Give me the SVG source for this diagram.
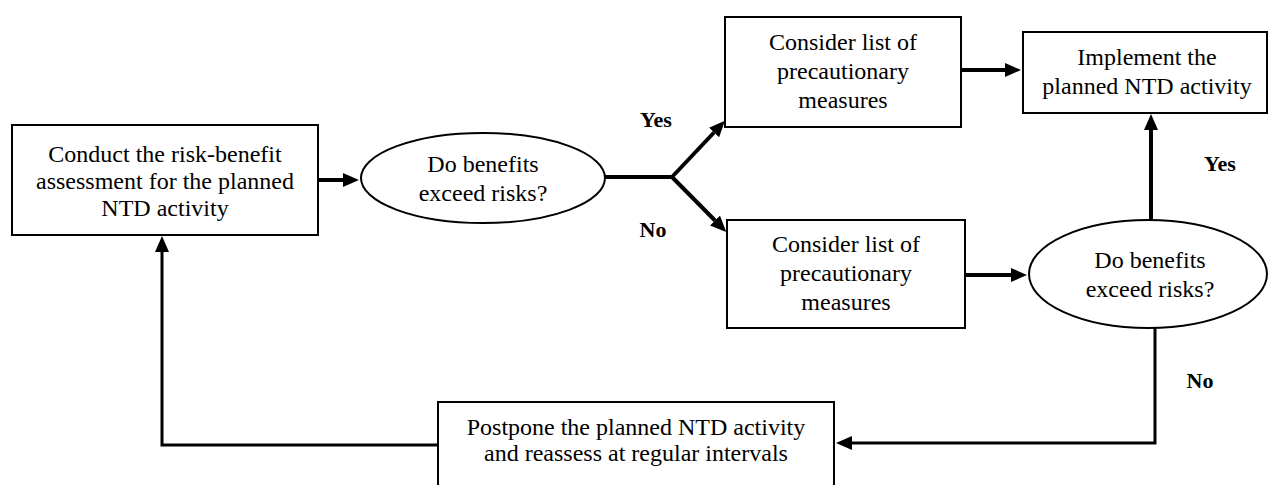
<svg xmlns="http://www.w3.org/2000/svg" width="1269" height="485" viewBox="0 0 1269 485">
<style>
.box{fill:#fff;stroke:#000;stroke-width:2}
.t{font-family:"Liberation Serif","Times New Roman",serif;font-size:24px;fill:#000;text-anchor:middle}
.lb{font-family:"Liberation Serif","Times New Roman",serif;font-size:22px;font-weight:bold;fill:#000;text-anchor:middle}
.c{fill:none;stroke:#000;stroke-width:4}
.c3{fill:none;stroke:#000;stroke-width:3}
</style>
<defs>
<marker id="ah" markerUnits="userSpaceOnUse" markerWidth="17" markerHeight="15" refX="0" refY="7" orient="auto">
<path d="M0,0 L16,7 L0,14 z" fill="#000"/>
</marker>
</defs>
<rect width="1269" height="485" fill="#fff"/>
<g id="connectors">
<line class="c" x1="318" y1="180" x2="343" y2="180" marker-end="url(#ah)"/>
<path class="c" d="M605,177 H672"/>
<line class="c" x1="672" y1="177" x2="714" y2="132.5" marker-end="url(#ah)"/>
<line class="c" x1="672" y1="177" x2="715" y2="220.5" marker-end="url(#ah)"/>
<line class="c" x1="961" y1="70" x2="1005" y2="70" marker-end="url(#ah)"/>
<line class="c" x1="1151" y1="220" x2="1151" y2="130" marker-end="url(#ah)"/>
<line class="c" x1="966" y1="275" x2="1011" y2="275" marker-end="url(#ah)"/>
<path class="c3" d="M1155,328 V443 H852" marker-end="url(#ah)"/>
<path class="c3" d="M438,445 H162 V252" marker-end="url(#ah)"/>
</g>
<g id="label-yes1"><text class="lb" x="656" y="127">Yes</text></g>
<g id="label-no1"><text class="lb" x="653" y="237">No</text></g>
<g id="label-yes2"><text class="lb" x="1220" y="171">Yes</text></g>
<g id="label-no2"><text class="lb" x="1200" y="388">No</text></g>
<g id="assess">
<rect class="box" x="12" y="125" width="306" height="110"/>
<text class="t" x="165" y="162">Conduct the risk-benefit</text>
<text class="t" x="165" y="189">assessment for the planned</text>
<text class="t" x="165" y="216">NTD activity</text>
</g>
<g id="decision1">
<ellipse class="box" cx="483" cy="178" rx="122" ry="45"/>
<text class="t" x="483" y="172">Do benefits</text>
<text class="t" x="483" y="201">exceed risks?</text>
</g>
<g id="consider1">
<rect class="box" x="725" y="17" width="236" height="110"/>
<text class="t" x="843" y="50">Consider list of</text>
<text class="t" x="843" y="79">precautionary</text>
<text class="t" x="843" y="108">measures</text>
</g>
<g id="implement">
<rect class="box" x="1023" y="32" width="244" height="81"/>
<text class="t" x="1147" y="65">Implement the</text>
<text class="t" x="1147" y="94">planned NTD activity</text>
</g>
<g id="consider2">
<rect class="box" x="727" y="220" width="238" height="108"/>
<text class="t" x="846" y="252">Consider list of</text>
<text class="t" x="846" y="281">precautionary</text>
<text class="t" x="846" y="310">measures</text>
</g>
<g id="decision2">
<ellipse class="box" cx="1148" cy="274" rx="119" ry="54"/>
<text class="t" x="1150" y="268">Do benefits</text>
<text class="t" x="1150" y="297">exceed risks?</text>
</g>
<g id="postpone">
<rect class="box" x="438" y="402" width="396" height="90"/>
<text class="t" x="636" y="435">Postpone the planned NTD activity</text>
<text class="t" x="636" y="461">and reassess at regular intervals</text>
</g>
</svg>
